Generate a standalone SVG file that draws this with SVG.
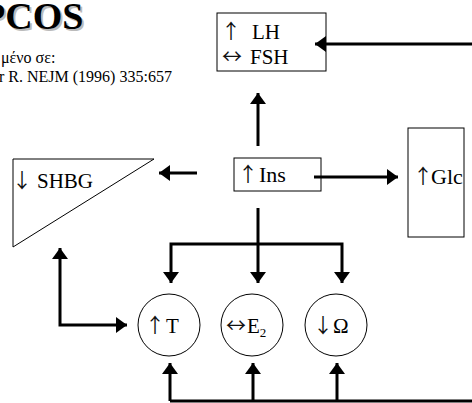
<svg xmlns="http://www.w3.org/2000/svg" width="472" height="403" viewBox="0 0 472 403">
<style>
text{font-family:"Liberation Serif","Times New Roman",serif;fill:#000}
.lab{font-size:21px}
.ar{font-family:"Noto Sans CJK JP","Noto Sans CJK SC",sans-serif;font-size:20px;fill:#111}
.box{fill:#fff;stroke:#000;stroke-width:1}
.con{fill:none;stroke:#000;stroke-width:3}
</style>
<defs>
<marker id="ah" markerUnits="userSpaceOnUse" markerWidth="11" markerHeight="16" refX="11" refY="8" orient="auto-start-reverse" viewBox="0 0 11 16">
<path d="M0,0 L11,8 L0,16 z" fill="#000"/>
</marker>
</defs>
<g id="title">
<text x="-16" y="31" font-size="38" font-weight="bold" style="fill:#bbb">PCOS</text>
<text x="-18" y="29" font-size="38" font-weight="bold">PCOS</text>
<text x="1" y="63" font-size="16">μένο σε:</text>
<text x="-1" y="82" font-size="16">r R. NEJM (1996) 335:657</text>
</g>
<g id="lhfsh">
<rect class="box" x="217" y="13" width="109" height="58"/>
<text class="lab" y="39"><tspan class="ar" x="221">↑</tspan><tspan x="252">LH</tspan></text>
<text class="lab" y="64"><tspan class="ar" x="222">↔</tspan><tspan x="250">FSH</tspan></text>
</g>
<g id="ins">
<rect class="box" x="234" y="158" width="87" height="33"/>
<text class="lab" y="182"><tspan class="ar" x="238">↑</tspan><tspan x="259" font-size="22">Ins</tspan></text>
</g>
<g id="glc">
<rect class="box" x="408" y="128" width="56" height="109"/>
<text class="lab" y="184"><tspan class="ar" x="413">↑</tspan><tspan x="431" font-size="22">Glc</tspan></text>
</g>
<g id="shbg">
<polygon class="box" points="13,159 154,159 13,247"/>
<text class="lab" y="188"><tspan class="ar" x="12">↓</tspan><tspan x="37">SHBG</tspan></text>
</g>
<g id="t">
<circle class="box" cx="169" cy="325" r="31"/>
<text class="lab" y="333"><tspan class="ar" x="145">↑</tspan><tspan x="166">T</tspan></text>
</g>
<g id="e2">
<circle class="box" cx="252" cy="325" r="31"/>
<text class="lab" y="333"><tspan class="ar" x="226">↔</tspan><tspan x="247">E</tspan><tspan font-size="13" dy="4">2</tspan></text>
</g>
<g id="omega">
<circle class="box" cx="336" cy="325" r="31"/>
<text class="lab" y="333"><tspan class="ar" x="313">↓</tspan><tspan x="333">Ω</tspan></text>
</g>
<g id="connectors">
<line class="con" x1="472" y1="44" x2="315" y2="44" marker-end="url(#ah)"/>
<line class="con" x1="258" y1="146" x2="258" y2="93" marker-end="url(#ah)"/>
<line class="con" x1="197" y1="173" x2="159" y2="173" marker-end="url(#ah)"/>
<line class="con" x1="314" y1="177" x2="398" y2="177" marker-end="url(#ah)"/>
<line class="con" x1="258" y1="208" x2="258" y2="283" marker-end="url(#ah)"/>
<polyline class="con" points="171,283 171,244 342,244 342,283" marker-start="url(#ah)" marker-end="url(#ah)"/>
<polyline class="con" points="60,248 60,325 127,325" marker-start="url(#ah)" marker-end="url(#ah)"/>
<line class="con" x1="170" y1="401" x2="472" y2="401"/>
<line class="con" x1="170" y1="401" x2="170" y2="363" marker-end="url(#ah)"/>
<line class="con" x1="253" y1="401" x2="253" y2="363" marker-end="url(#ah)"/>
<line class="con" x1="337" y1="401" x2="337" y2="363" marker-end="url(#ah)"/>
</g>
</svg>
